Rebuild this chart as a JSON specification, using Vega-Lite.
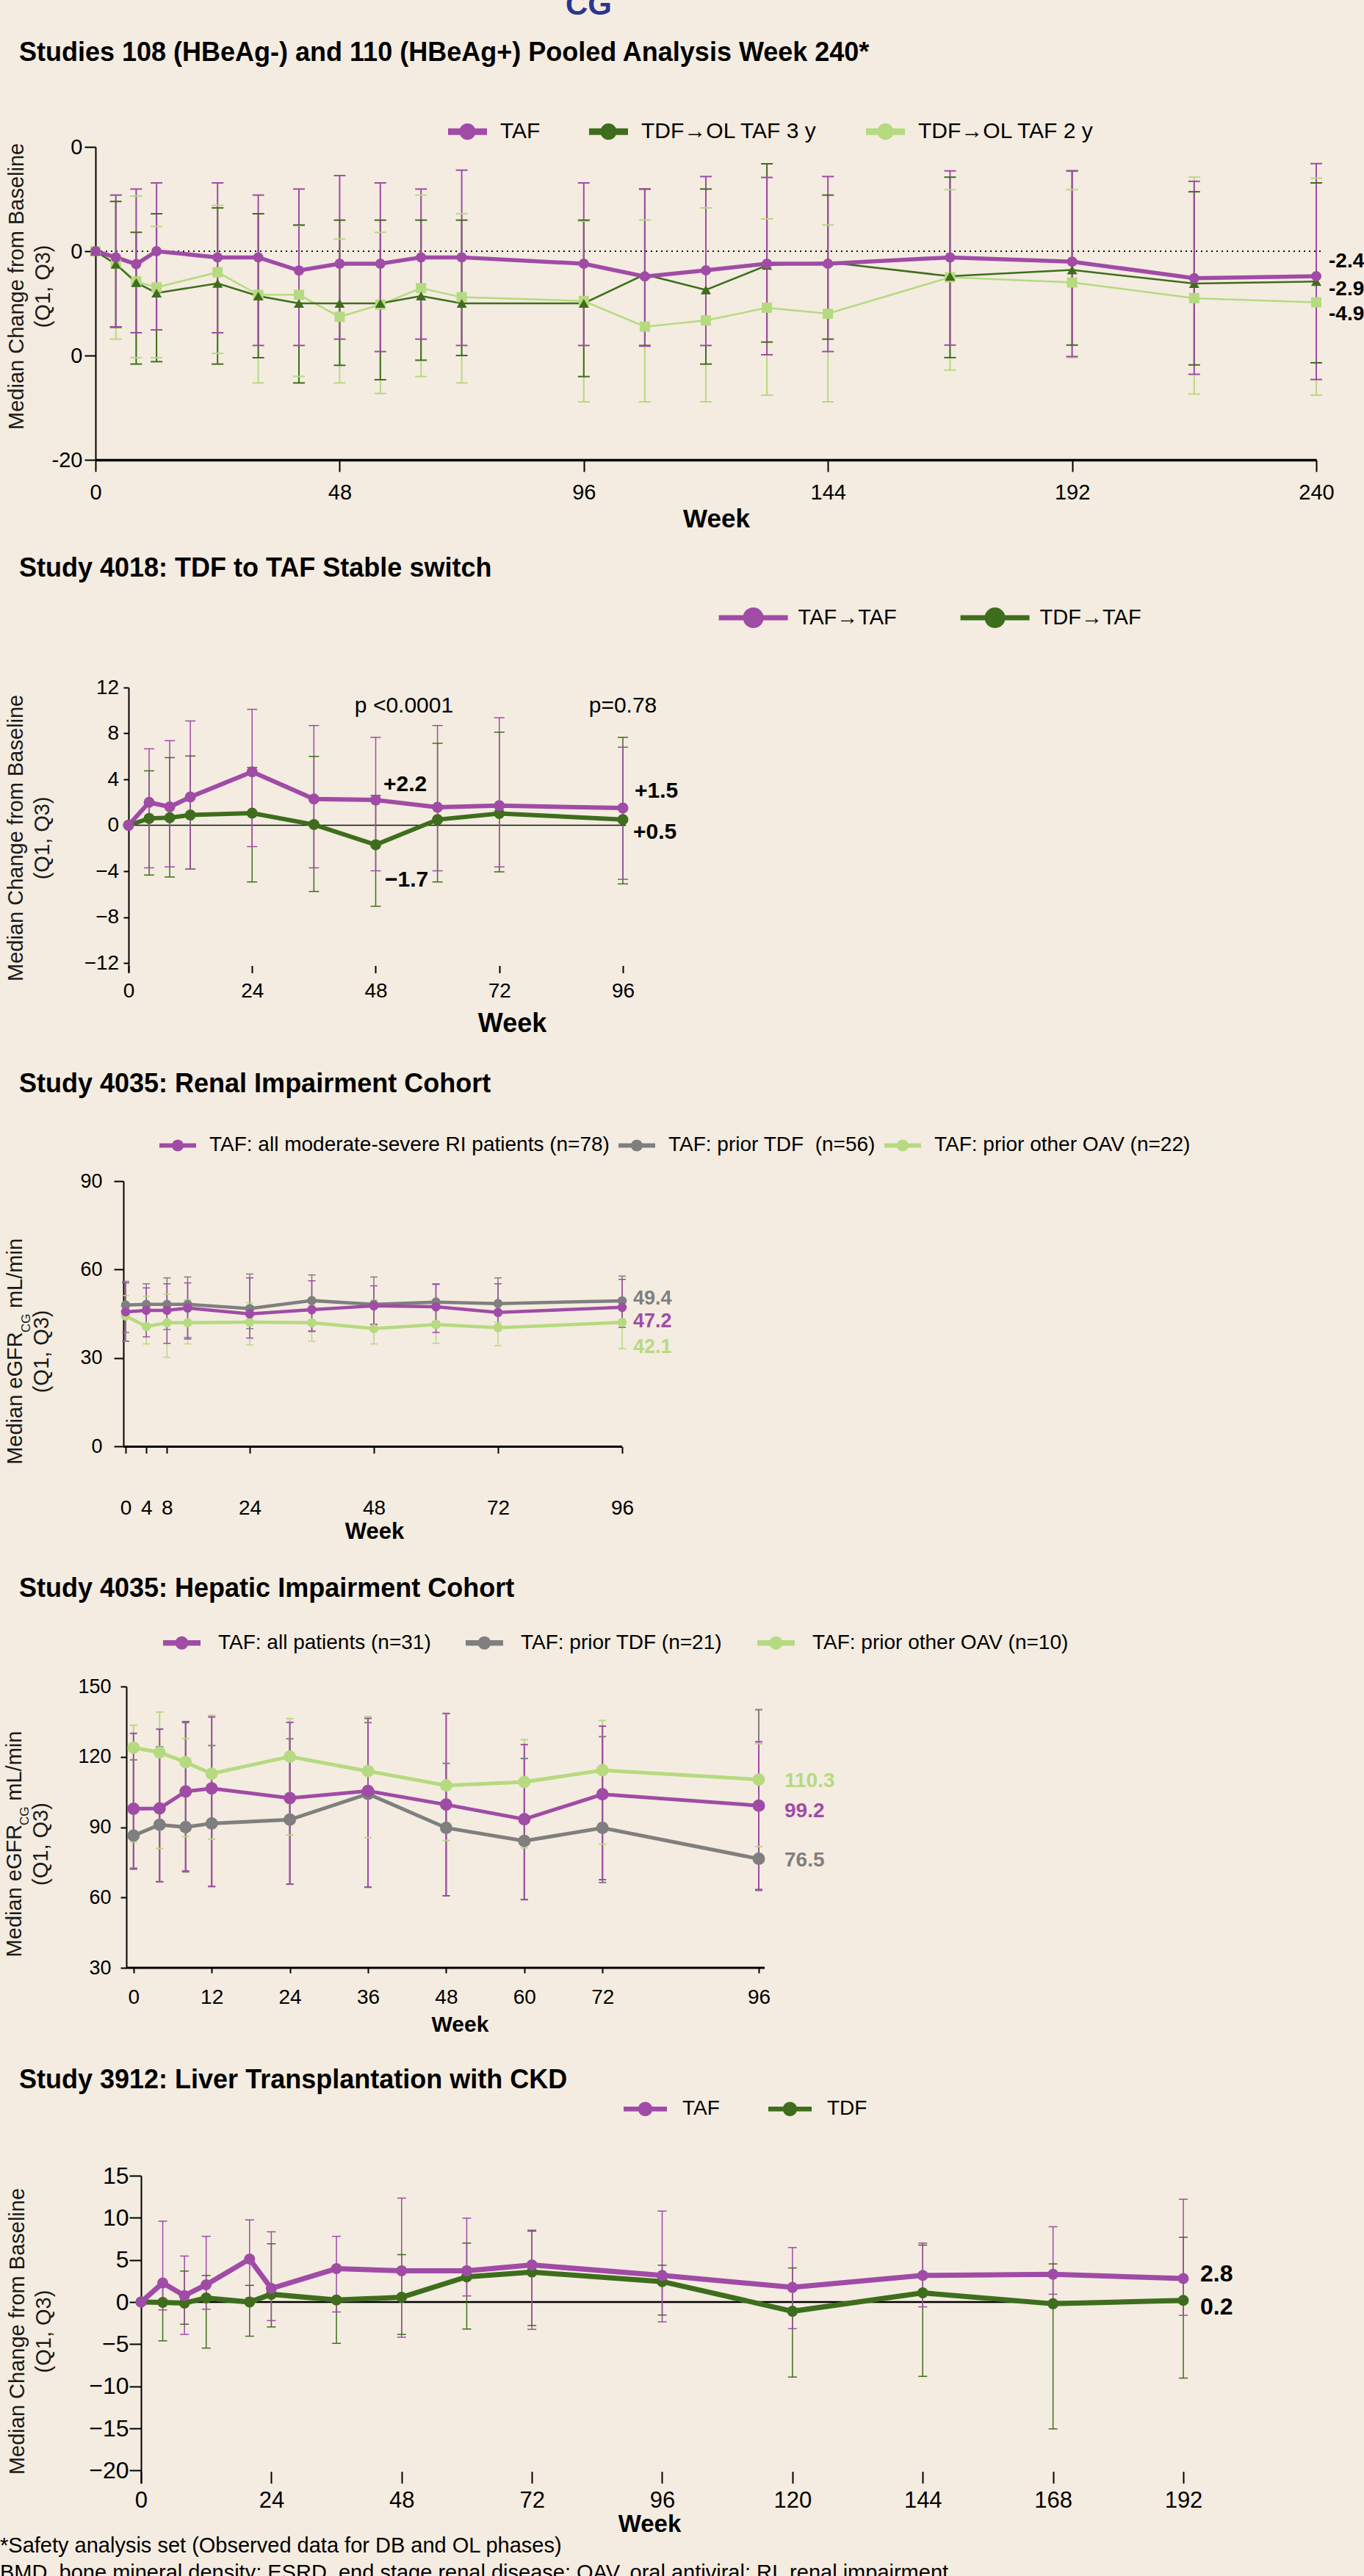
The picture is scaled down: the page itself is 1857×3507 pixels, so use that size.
{
  "$schema": "https://vega.github.io/schema/vega-lite/v6.json",
  "background": "#F4ECE0",
  "padding": {"left": 0, "top": -14, "right": 10, "bottom": 0},
  "spacing": 0,
  "bounds": "flush",
  "config": {
    "font": "Liberation Sans",
    "view": {"stroke": null},
    "axis": {"grid": false, "labelFlush": false, "labelOverlap": false, "labelBound": false, "domainColor": "#000", "tickColor": "#000", "labelColor": "#000", "titleColor": "#1a1a1a", "tickWidth": 2, "domainWidth": 2},
    "legend": {"labelColor": "#000", "padding": 0, "rowPadding": 0, "symbolStrokeWidth": 0, "symbolOpacity": 1, "direction": "horizontal", "labelLimit": 1000},
    "title": {"anchor": "start", "frame": "group", "baseline": "alphabetic", "color": "#000", "fontWeight": "bold", "fontSize": 36, "dx": -104}
  },
  "resolve": {"scale": {"color": "independent", "shape": "independent"}, "legend": {"color": "independent", "shape": "independent"}},
  "datasets": {
    "p1": [
      {"series": "TDF→OL TAF 2 y", "week": 0, "median": 0},
      {"series": "TDF→OL TAF 2 y", "week": 4, "median": -1.2, "q1": -8.43, "q3": 5.38},
      {"series": "TDF→OL TAF 2 y", "week": 8, "median": -2.9, "q1": -10.21, "q3": 5.28},
      {"series": "TDF→OL TAF 2 y", "week": 12, "median": -3.47, "q1": -10.21, "q3": 2.37},
      {"series": "TDF→OL TAF 2 y", "week": 24, "median": -2.02, "q1": -9.8, "q3": 4.4},
      {"series": "TDF→OL TAF 2 y", "week": 32, "median": -4.18, "q1": -12.63, "q3": 3.6},
      {"series": "TDF→OL TAF 2 y", "week": 40, "median": -4.18, "q1": -12.0, "q3": 2.46},
      {"series": "TDF→OL TAF 2 y", "week": 48, "median": -6.29, "q1": -12.63, "q3": 1.17},
      {"series": "TDF→OL TAF 2 y", "week": 56, "median": -5.12, "q1": -13.64, "q3": 1.81},
      {"series": "TDF→OL TAF 2 y", "week": 64, "median": -3.54, "q1": -12.02, "q3": 5.38},
      {"series": "TDF→OL TAF 2 y", "week": 72, "median": -4.41, "q1": -12.63, "q3": 3.59},
      {"series": "TDF→OL TAF 2 y", "week": 96, "median": -4.77, "q1": -14.44, "q3": 2.9},
      {"series": "TDF→OL TAF 2 y", "week": 108, "median": -7.23, "q1": -14.44, "q3": 2.98},
      {"series": "TDF→OL TAF 2 y", "week": 120, "median": -6.64, "q1": -14.44, "q3": 4.15},
      {"series": "TDF→OL TAF 2 y", "week": 132, "median": -5.42, "q1": -13.8, "q3": 3.1},
      {"series": "TDF→OL TAF 2 y", "week": 144, "median": -5.99, "q1": -14.44, "q3": 2.51},
      {"series": "TDF→OL TAF 2 y", "week": 168, "median": -2.5, "q1": -11.4, "q3": 5.9},
      {"series": "TDF→OL TAF 2 y", "week": 192, "median": -3.0, "q1": -10.2, "q3": 5.9},
      {"series": "TDF→OL TAF 2 y", "week": 216, "median": -4.5, "q1": -13.7, "q3": 7.1},
      {"series": "TDF→OL TAF 2 y", "week": 240, "median": -4.9, "q1": -13.8, "q3": 7.0},
      {"series": "TDF→OL TAF 3 y", "week": 0, "median": 0},
      {"series": "TDF→OL TAF 3 y", "week": 4, "median": -1.24, "q1": -7.3, "q3": 4.77},
      {"series": "TDF→OL TAF 3 y", "week": 8, "median": -3.0, "q1": -10.82, "q3": 1.81},
      {"series": "TDF→OL TAF 3 y", "week": 12, "median": -4.01, "q1": -10.59, "q3": 3.59},
      {"series": "TDF→OL TAF 3 y", "week": 24, "median": -3.08, "q1": -10.82, "q3": 4.15},
      {"series": "TDF→OL TAF 3 y", "week": 32, "median": -4.3, "q1": -10.21, "q3": 3.59},
      {"series": "TDF→OL TAF 3 y", "week": 40, "median": -5.0, "q1": -12.63, "q3": 2.51},
      {"series": "TDF→OL TAF 3 y", "week": 48, "median": -5.0, "q1": -10.94, "q3": 2.98},
      {"series": "TDF→OL TAF 3 y", "week": 56, "median": -5.0, "q1": -12.32, "q3": 2.98},
      {"series": "TDF→OL TAF 3 y", "week": 64, "median": -4.3, "q1": -10.45, "q3": 2.98},
      {"series": "TDF→OL TAF 3 y", "week": 72, "median": -5.0, "q1": -10.0, "q3": 2.98},
      {"series": "TDF→OL TAF 3 y", "week": 96, "median": -5.0, "q1": -12.02, "q3": 2.98},
      {"series": "TDF→OL TAF 3 y", "week": 108, "median": -2.23, "q1": -9.04, "q3": 5.96},
      {"series": "TDF→OL TAF 3 y", "week": 120, "median": -3.71, "q1": -10.82, "q3": 5.96},
      {"series": "TDF→OL TAF 3 y", "week": 132, "median": -1.36, "q1": -8.71, "q3": 8.38},
      {"series": "TDF→OL TAF 3 y", "week": 144, "median": -1.06, "q1": -8.43, "q3": 5.38},
      {"series": "TDF→OL TAF 3 y", "week": 168, "median": -2.4, "q1": -10.2, "q3": 7.1},
      {"series": "TDF→OL TAF 3 y", "week": 192, "median": -1.8, "q1": -9.0, "q3": 7.7},
      {"series": "TDF→OL TAF 3 y", "week": 216, "median": -3.1, "q1": -10.9, "q3": 5.7},
      {"series": "TDF→OL TAF 3 y", "week": 240, "median": -2.9, "q1": -10.7, "q3": 6.55},
      {"series": "TAF", "week": 0, "median": 0},
      {"series": "TAF", "week": 4, "median": -0.59, "q1": -7.25, "q3": 5.38},
      {"series": "TAF", "week": 8, "median": -1.24, "q1": -7.82, "q3": 5.96},
      {"series": "TAF", "week": 12, "median": 0, "q1": -7.54, "q3": 6.55},
      {"series": "TAF", "week": 24, "median": -0.59, "q1": -7.82, "q3": 6.55},
      {"series": "TAF", "week": 32, "median": -0.59, "q1": -9.04, "q3": 5.38},
      {"series": "TAF", "week": 40, "median": -1.85, "q1": -9.04, "q3": 5.96},
      {"series": "TAF", "week": 48, "median": -1.2, "q1": -8.43, "q3": 7.25},
      {"series": "TAF", "week": 56, "median": -1.2, "q1": -9.62, "q3": 6.55},
      {"series": "TAF", "week": 64, "median": -0.59, "q1": -8.43, "q3": 5.96},
      {"series": "TAF", "week": 72, "median": -0.59, "q1": -9.04, "q3": 7.77},
      {"series": "TAF", "week": 96, "median": -1.2, "q1": -9.04, "q3": 6.55},
      {"series": "TAF", "week": 108, "median": -2.42, "q1": -9.1, "q3": 5.96},
      {"series": "TAF", "week": 120, "median": -1.83, "q1": -9.04, "q3": 7.16},
      {"series": "TAF", "week": 132, "median": -1.2, "q1": -9.93, "q3": 7.07},
      {"series": "TAF", "week": 144, "median": -1.2, "q1": -9.62, "q3": 7.16},
      {"series": "TAF", "week": 168, "median": -0.6, "q1": -9.0, "q3": 7.7},
      {"series": "TAF", "week": 192, "median": -1.0, "q1": -10.1, "q3": 7.7},
      {"series": "TAF", "week": 216, "median": -2.58, "q1": -11.8, "q3": 6.7},
      {"series": "TAF", "week": 240, "median": -2.4, "q1": -12.3, "q3": 8.4}
    ],
    "p2": [
      {"series": "TDF→TAF", "week": 0, "median": 0},
      {"series": "TDF→TAF", "week": 4, "median": 0.6, "q1": -4.34, "q3": 4.74},
      {"series": "TDF→TAF", "week": 8, "median": 0.66, "q1": -4.51, "q3": 5.89},
      {"series": "TDF→TAF", "week": 12, "median": 0.89, "q1": -3.83, "q3": 6.03},
      {"series": "TDF→TAF", "week": 24, "median": 1.06, "q1": -4.94, "q3": 5.03},
      {"series": "TDF→TAF", "week": 36, "median": 0.06, "q1": -5.77, "q3": 6.0},
      {"series": "TDF→TAF", "week": 48, "median": -1.7, "q1": -7.06, "q3": 2.6},
      {"series": "TDF→TAF", "week": 60, "median": 0.49, "q1": -4.94, "q3": 7.14},
      {"series": "TDF→TAF", "week": 72, "median": 1.03, "q1": -4.06, "q3": 8.11},
      {"series": "TDF→TAF", "week": 96, "median": 0.5, "q1": -5.11, "q3": 7.66},
      {"series": "TAF→TAF", "week": 0, "median": 0},
      {"series": "TAF→TAF", "week": 4, "median": 2.0, "q1": -3.71, "q3": 6.66},
      {"series": "TAF→TAF", "week": 8, "median": 1.6, "q1": -3.63, "q3": 7.37},
      {"series": "TAF→TAF", "week": 12, "median": 2.46, "q1": -3.83, "q3": 9.09},
      {"series": "TAF→TAF", "week": 24, "median": 4.66, "q1": -1.86, "q3": 10.1},
      {"series": "TAF→TAF", "week": 36, "median": 2.29, "q1": -3.71, "q3": 8.69},
      {"series": "TAF→TAF", "week": 48, "median": 2.2, "q1": -3.97, "q3": 7.66},
      {"series": "TAF→TAF", "week": 60, "median": 1.57, "q1": -3.97, "q3": 8.69},
      {"series": "TAF→TAF", "week": 72, "median": 1.71, "q1": -3.63, "q3": 9.37},
      {"series": "TAF→TAF", "week": 96, "median": 1.5, "q1": -4.71, "q3": 6.8}
    ],
    "p3": [
      {"series": "TAF: prior other OAV (n=22)", "week": 0, "median": 44.3, "q1": 35.7, "q3": 51.2},
      {"series": "TAF: prior other OAV (n=22)", "week": 4, "median": 40.7, "q1": 34.8, "q3": 51.0},
      {"series": "TAF: prior other OAV (n=22)", "week": 8, "median": 42.0, "q1": 30.3, "q3": 51.7},
      {"series": "TAF: prior other OAV (n=22)", "week": 12, "median": 42.0, "q1": 34.8, "q3": 49.8},
      {"series": "TAF: prior other OAV (n=22)", "week": 24, "median": 42.2, "q1": 34.5, "q3": 48.8},
      {"series": "TAF: prior other OAV (n=22)", "week": 36, "median": 42.0, "q1": 35.7, "q3": 47.8},
      {"series": "TAF: prior other OAV (n=22)", "week": 48, "median": 40.0, "q1": 34.8, "q3": 49.7},
      {"series": "TAF: prior other OAV (n=22)", "week": 60, "median": 41.4, "q1": 35.0, "q3": 49.0},
      {"series": "TAF: prior other OAV (n=22)", "week": 72, "median": 40.3, "q1": 34.2, "q3": 42.2},
      {"series": "TAF: prior other OAV (n=22)", "week": 96, "median": 42.1, "q1": 33.2, "q3": 48.0},
      {"series": "TAF: prior TDF\u00a0 (n=56)", "week": 0, "median": 48.0, "q1": 38.7, "q3": 56.0},
      {"series": "TAF: prior TDF\u00a0 (n=56)", "week": 4, "median": 48.2, "q1": 41.5, "q3": 55.2},
      {"series": "TAF: prior TDF\u00a0 (n=56)", "week": 8, "median": 48.2, "q1": 39.7, "q3": 57.2},
      {"series": "TAF: prior TDF\u00a0 (n=56)", "week": 12, "median": 48.2, "q1": 37.0, "q3": 57.5},
      {"series": "TAF: prior TDF\u00a0 (n=56)", "week": 24, "median": 46.8, "q1": 40.0, "q3": 58.5},
      {"series": "TAF: prior TDF\u00a0 (n=56)", "week": 36, "median": 49.5, "q1": 39.0, "q3": 58.2},
      {"series": "TAF: prior TDF\u00a0 (n=56)", "week": 48, "median": 48.2, "q1": 41.4, "q3": 57.5},
      {"series": "TAF: prior TDF\u00a0 (n=56)", "week": 60, "median": 49.0, "q1": 42.4, "q3": 55.2},
      {"series": "TAF: prior TDF\u00a0 (n=56)", "week": 72, "median": 48.5, "q1": 41.2, "q3": 57.2},
      {"series": "TAF: prior TDF\u00a0 (n=56)", "week": 96, "median": 49.4, "q1": 42.6, "q3": 57.8},
      {"series": "TAF: all moderate-severe RI patients (n=78)", "week": 0, "median": 45.7, "q1": 35.7, "q3": 55.5},
      {"series": "TAF: all moderate-severe RI patients (n=78)", "week": 4, "median": 46.2, "q1": 37.2, "q3": 53.8},
      {"series": "TAF: all moderate-severe RI patients (n=78)", "week": 8, "median": 46.2, "q1": 35.0, "q3": 55.2},
      {"series": "TAF: all moderate-severe RI patients (n=78)", "week": 12, "median": 47.0, "q1": 36.5, "q3": 55.5},
      {"series": "TAF: all moderate-severe RI patients (n=78)", "week": 24, "median": 45.0, "q1": 36.8, "q3": 57.2},
      {"series": "TAF: all moderate-severe RI patients (n=78)", "week": 36, "median": 46.4, "q1": 39.2, "q3": 56.2},
      {"series": "TAF: all moderate-severe RI patients (n=78)", "week": 48, "median": 47.7, "q1": 41.5, "q3": 54.5},
      {"series": "TAF: all moderate-severe RI patients (n=78)", "week": 60, "median": 47.4, "q1": 38.7, "q3": 55.0},
      {"series": "TAF: all moderate-severe RI patients (n=78)", "week": 72, "median": 45.5, "q1": 41.2, "q3": 55.2},
      {"series": "TAF: all moderate-severe RI patients (n=78)", "week": 96, "median": 47.2, "q1": 40.4, "q3": 56.7}
    ],
    "p4": [
      {"series": "TAF: prior other OAV (n=10)", "week": 0, "median": 123.9, "q1": 83.7, "q3": 133.5},
      {"series": "TAF: prior other OAV (n=10)", "week": 4, "median": 121.9, "q1": 80.9, "q3": 139.1},
      {"series": "TAF: prior other OAV (n=10)", "week": 8, "median": 117.7, "q1": 86.0, "q3": 127.8},
      {"series": "TAF: prior other OAV (n=10)", "week": 12, "median": 112.8, "q1": 84.9, "q3": 137.7},
      {"series": "TAF: prior other OAV (n=10)", "week": 24, "median": 120.1, "q1": 86.7, "q3": 136.3},
      {"series": "TAF: prior other OAV (n=10)", "week": 36, "median": 113.9, "q1": 85.5, "q3": 137.2},
      {"series": "TAF: prior other OAV (n=10)", "week": 48, "median": 107.8, "q1": 84.3, "q3": 138.4},
      {"series": "TAF: prior other OAV (n=10)", "week": 60, "median": 109.3, "q1": 81.2, "q3": 127.3},
      {"series": "TAF: prior other OAV (n=10)", "week": 72, "median": 114.3, "q1": 82.7, "q3": 135.5},
      {"series": "TAF: prior other OAV (n=10)", "week": 96, "median": 110.3, "q1": 81.7, "q3": 125.6},
      {"series": "TAF: prior TDF (n=21)", "week": 0, "median": 86.4, "q1": 72.5, "q3": 118.7},
      {"series": "TAF: prior TDF (n=21)", "week": 4, "median": 91.0, "q1": 66.7, "q3": 124.3},
      {"series": "TAF: prior TDF (n=21)", "week": 8, "median": 90.0, "q1": 70.9, "q3": 134.6},
      {"series": "TAF: prior TDF (n=21)", "week": 12, "median": 91.6, "q1": 64.7, "q3": 124.8},
      {"series": "TAF: prior TDF (n=21)", "week": 24, "median": 93.2, "q1": 65.7, "q3": 127.7},
      {"series": "TAF: prior TDF (n=21)", "week": 36, "median": 104.2, "q1": 64.4, "q3": 134.6},
      {"series": "TAF: prior TDF (n=21)", "week": 48, "median": 89.7, "q1": 60.7, "q3": 117.2},
      {"series": "TAF: prior TDF (n=21)", "week": 60, "median": 84.1, "q1": 59.1, "q3": 119.3},
      {"series": "TAF: prior TDF (n=21)", "week": 72, "median": 89.7, "q1": 66.4, "q3": 128.6},
      {"series": "TAF: prior TDF (n=21)", "week": 96, "median": 76.5, "q1": 63.0, "q3": 140.1},
      {"series": "TAF: all patients (n=31)", "week": 0, "median": 97.8, "q1": 72.1, "q3": 130.0},
      {"series": "TAF: all patients (n=31)", "week": 4, "median": 98.0, "q1": 66.7, "q3": 131.8},
      {"series": "TAF: all patients (n=31)", "week": 8, "median": 105.2, "q1": 71.3, "q3": 135.0},
      {"series": "TAF: all patients (n=31)", "week": 12, "median": 106.5, "q1": 64.7, "q3": 137.0},
      {"series": "TAF: all patients (n=31)", "week": 24, "median": 102.4, "q1": 65.7, "q3": 134.7},
      {"series": "TAF: all patients (n=31)", "week": 36, "median": 105.4, "q1": 64.4, "q3": 136.4},
      {"series": "TAF: all patients (n=31)", "week": 48, "median": 99.6, "q1": 60.7, "q3": 138.5},
      {"series": "TAF: all patients (n=31)", "week": 60, "median": 93.4, "q1": 59.1, "q3": 125.2},
      {"series": "TAF: all patients (n=31)", "week": 72, "median": 104.0, "q1": 67.6, "q3": 133.1},
      {"series": "TAF: all patients (n=31)", "week": 96, "median": 99.2, "q1": 63.4, "q3": 126.4}
    ],
    "p5": [
      {"series": "TDF", "week": 0, "median": 0},
      {"series": "TDF", "week": 4, "median": -0.04, "q1": -4.6, "q3": 2.27},
      {"series": "TDF", "week": 8, "median": -0.12, "q1": -2.63, "q3": 3.68},
      {"series": "TDF", "week": 12, "median": 0.49, "q1": -5.46, "q3": 3.16},
      {"series": "TDF", "week": 20, "median": 0.0, "q1": -4.05, "q3": 1.98},
      {"series": "TDF", "week": 24, "median": 0.93, "q1": -2.95, "q3": 6.92},
      {"series": "TDF", "week": 36, "median": 0.24, "q1": -4.9, "q3": 0.6},
      {"series": "TDF", "week": 48, "median": 0.57, "q1": -3.84, "q3": 5.63},
      {"series": "TDF", "week": 60, "median": 3.0, "q1": -3.2, "q3": 7.0},
      {"series": "TDF", "week": 72, "median": 3.56, "q1": -2.79, "q3": 8.42},
      {"series": "TDF", "week": 96, "median": 2.43, "q1": -1.54, "q3": 4.37},
      {"series": "TDF", "week": 120, "median": -1.09, "q1": -8.9, "q3": 4.05},
      {"series": "TDF", "week": 144, "median": 1.09, "q1": -8.82, "q3": 6.76},
      {"series": "TDF", "week": 168, "median": -0.2, "q1": -15.05, "q3": 4.53},
      {"series": "TDF", "week": 192, "median": 0.2, "q1": -9.02, "q3": 7.69},
      {"series": "TAF", "week": 0, "median": 0},
      {"series": "TAF", "week": 4, "median": 2.27, "q1": -0.93, "q3": 9.6},
      {"series": "TAF", "week": 8, "median": 0.77, "q1": -3.84, "q3": 5.46},
      {"series": "TAF", "week": 12, "median": 2.06, "q1": -0.85, "q3": 7.8},
      {"series": "TAF", "week": 20, "median": 5.1, "q1": 0.49, "q3": 9.75},
      {"series": "TAF", "week": 24, "median": 1.62, "q1": -2.2, "q3": 8.34},
      {"series": "TAF", "week": 36, "median": 3.97, "q1": -1.17, "q3": 7.8},
      {"series": "TAF", "week": 48, "median": 3.72, "q1": -4.17, "q3": 12.34},
      {"series": "TAF", "week": 60, "median": 3.72, "q1": 0.73, "q3": 9.96},
      {"series": "TAF", "week": 72, "median": 4.4, "q1": -3.24, "q3": 8.54},
      {"series": "TAF", "week": 96, "median": 3.16, "q1": -2.35, "q3": 10.8},
      {"series": "TAF", "week": 120, "median": 1.74, "q1": -3.16, "q3": 6.47},
      {"series": "TAF", "week": 144, "median": 3.16, "q1": -0.57, "q3": 7.0},
      {"series": "TAF", "week": 168, "median": 3.3, "q1": 0.93, "q3": 8.94},
      {"series": "TAF", "week": 192, "median": 2.8, "q1": -1.58, "q3": 12.2}
    ]
  },
  "vconcat": [
    {"width": 1, "height": 20, "data": {"values": []}, "mark": "point",
     "title": {"text": "CG", "fontSize": 42, "color": "#2B3590", "offset": -20, "dx": 640}},
    {"width": 1, "height": 171, "data": {"values": []}, "mark": "point",
     "title": {"text": "Studies 108 (HBeAg-) and 110 (HBeAg+) Pooled Analysis Week 240*", "offset": -62}},
    {
      "width": 1662, "height": 426,
      "data": {"name": "p1"},
      "layer": [
        {"data": {"values": [{"ref": 0, "from": 0, "to": 241.2}]},
         "mark": {"type": "rule", "strokeDash": [2, 5], "strokeWidth": 2, "color": "#111"},
         "encoding": {
           "x": {"field": "from", "type": "quantitative", "scale": {"domain": [0, 240], "nice": false, "zero": false}},
           "x2": {"field": "to"},
           "y": {"field": "ref", "type": "quantitative", "scale": {"domain": [-20, 10], "nice": false, "zero": false}}}},
        {"mark": {"type": "rule", "strokeWidth": 2},
         "encoding": {
           "x": {"field": "week", "type": "quantitative", "scale": {"domain": [0, 240], "nice": false, "zero": false}},
           "y": {"field": "q1", "type": "quantitative", "scale": {"domain": [-20, 10], "nice": false, "zero": false}},
           "y2": {"field": "q3"},
           "color": {"field": "series", "type": "nominal", "scale": {"domain": ["TAF", "TDF→OL TAF 3 y", "TDF→OL TAF 2 y"], "range": ["#A04BA6", "#3E6E1D", "#B6DA80"]}}}},
        {"mark": {"type": "tick", "orient": "horizontal", "size": 16, "thickness": 2, "opacity": 1},
         "encoding": {
           "x": {"field": "week", "type": "quantitative", "scale": {"domain": [0, 240], "nice": false, "zero": false}},
           "y": {"field": "q1", "type": "quantitative", "scale": {"domain": [-20, 10], "nice": false, "zero": false}},
           "color": {"field": "series", "type": "nominal", "scale": {"domain": ["TAF", "TDF→OL TAF 3 y", "TDF→OL TAF 2 y"], "range": ["#A04BA6", "#3E6E1D", "#B6DA80"]}}}},
        {"mark": {"type": "tick", "orient": "horizontal", "size": 16, "thickness": 2, "opacity": 1},
         "encoding": {
           "x": {"field": "week", "type": "quantitative", "scale": {"domain": [0, 240], "nice": false, "zero": false}},
           "y": {"field": "q3", "type": "quantitative", "scale": {"domain": [-20, 10], "nice": false, "zero": false}},
           "color": {"field": "series", "type": "nominal", "scale": {"domain": ["TAF", "TDF→OL TAF 3 y", "TDF→OL TAF 2 y"], "range": ["#A04BA6", "#3E6E1D", "#B6DA80"]}}}},
        {"transform": [{"filter": "datum.series != 'TAF'"}],
         "mark": {"type": "line", "strokeWidth": 2.5},
         "encoding": {
           "x": {"field": "week", "type": "quantitative", "scale": {"domain": [0, 240], "nice": false, "zero": false},
                 "axis": {"values": [0, 48, 96, 144, 192, 240], "domainWidth": 3.5, "tickSize": 16, "labelPadding": 37.7, "labelBaseline": "alphabetic", "labelFontSize": 29, "title": "Week", "titleFontSize": 35, "titleFontWeight": "bold", "titleColor": "#000", "titleX": 845, "titleY": 91.8, "titleBaseline": "alphabetic", "titleAlign": "center", "titleAngle": 0}},
           "y": {"field": "median", "type": "quantitative", "scale": {"domain": [-20, 10], "nice": false, "zero": false},
                 "axis": {"values": [-20, -10, 0, 10], "labelExpr": "datum.value == -20 ? '-20' : '0'", "tickSize": 15, "labelPadding": 3, "labelFontSize": 29, "title": ["Median Change from Baseline", "(Q1, Q3)"], "titleFontSize": 29, "titleFontWeight": "normal", "titleX": -93, "titleY": 189.4, "titleAngle": 270, "titleBaseline": "bottom", "titleAlign": "center", "titleLineHeight": 36}},
           "color": {"field": "series", "type": "nominal", "scale": {"domain": ["TAF", "TDF→OL TAF 3 y", "TDF→OL TAF 2 y"], "range": ["#A04BA6", "#3E6E1D", "#B6DA80"]}}}},
        {"transform": [{"filter": "datum.series == 'TAF'"}],
         "mark": {"type": "line", "strokeWidth": 5.5},
         "encoding": {
           "x": {"field": "week", "type": "quantitative", "scale": {"domain": [0, 240], "nice": false, "zero": false}},
           "y": {"field": "median", "type": "quantitative", "scale": {"domain": [-20, 10], "nice": false, "zero": false}},
           "color": {"field": "series", "type": "nominal", "scale": {"domain": ["TAF", "TDF→OL TAF 3 y", "TDF→OL TAF 2 y"], "range": ["#A04BA6", "#3E6E1D", "#B6DA80"]}}}},
        {"mark": {"type": "point", "filled": true, "opacity": 1, "size": 196},
         "encoding": {
           "x": {"field": "week", "type": "quantitative", "scale": {"domain": [0, 240], "nice": false, "zero": false}},
           "y": {"field": "median", "type": "quantitative", "scale": {"domain": [-20, 10], "nice": false, "zero": false}},
           "shape": {"field": "series", "type": "nominal", "scale": {"range": ["circle", "square", "triangle-up"]}, "legend": null},
           "color": {"field": "series", "type": "nominal", "scale": {"domain": ["TAF", "TDF→OL TAF 3 y", "TDF→OL TAF 2 y"], "range": ["#A04BA6", "#3E6E1D", "#B6DA80"]},
                     "legend": {"title": null, "orient": "none", "legendX": 480, "legendY": -47.6, "symbolType": "M-1,-0.17L1,-0.17L1,0.17L-1,0.17Z M0.42,0A0.42,0.42 0 1 1 -0.42,0A0.42,0.42 0 1 1 0.42,0Z", "symbolSize": 2809, "labelFontSize": 30, "labelOffset": 18, "columnPadding": 66}}}},
        {"transform": [{"filter": "datum.week == 240"}],
         "layer": [
           {"transform": [{"filter": "datum.series == 'TAF'"}], "mark": {"type": "text", "align": "left", "baseline": "middle", "fontSize": 28, "fontWeight": "bold", "dx": 17, "dy": -20, "color": "#000"}},
           {"transform": [{"filter": "datum.series == 'TDF→OL TAF 3 y'"}], "mark": {"type": "text", "align": "left", "baseline": "middle", "fontSize": 28, "fontWeight": "bold", "dx": 17, "dy": 11, "color": "#000"}},
           {"transform": [{"filter": "datum.series == 'TDF→OL TAF 2 y'"}], "mark": {"type": "text", "align": "left", "baseline": "middle", "fontSize": 28, "fontWeight": "bold", "dx": 17, "dy": 16, "color": "#000"}}
         ],
         "encoding": {
           "x": {"field": "week", "type": "quantitative", "scale": {"domain": [0, 240], "nice": false, "zero": false}},
           "y": {"field": "median", "type": "quantitative", "scale": {"domain": [-20, 10], "nice": false, "zero": false}},
           "text": {"field": "median", "type": "nominal"}}}
      ]
    },
    {"width": 1, "height": 310, "data": {"values": []}, "mark": "point",
     "title": {"text": "Study 4018: TDF to TAF Stable switch", "offset": -167}},
    {
      "width": 718, "height": 387.5,
      "data": {"name": "p2"},
      "layer": [
        {"data": {"values": [{"ref": 0, "from": 0, "to": 96.6}]},
         "mark": {"type": "rule", "strokeWidth": 1.5, "color": "#111"},
         "encoding": {
           "x": {"field": "from", "type": "quantitative", "scale": {"domain": [-6.419, 96], "nice": false, "zero": false}},
           "x2": {"field": "to"},
           "y": {"field": "ref", "type": "quantitative", "scale": {"domain": [-12.8, 12], "nice": false, "zero": false}}}},
        {"mark": {"type": "rule", "strokeWidth": 1.5},
         "encoding": {
           "x": {"field": "week", "type": "quantitative", "scale": {"domain": [-6.419, 96], "nice": false, "zero": false}},
           "y": {"field": "q1", "type": "quantitative", "scale": {"domain": [-12.8, 12], "nice": false, "zero": false}},
           "y2": {"field": "q3"},
           "color": {"field": "series", "type": "nominal", "scale": {"domain": ["TAF→TAF", "TDF→TAF"], "range": ["#A04BA6", "#3E6E1D"]}}}},
        {"mark": {"type": "tick", "orient": "horizontal", "size": 14, "thickness": 1.5, "opacity": 1},
         "encoding": {
           "x": {"field": "week", "type": "quantitative", "scale": {"domain": [-6.419, 96], "nice": false, "zero": false}},
           "y": {"field": "q1", "type": "quantitative", "scale": {"domain": [-12.8, 12], "nice": false, "zero": false}},
           "color": {"field": "series", "type": "nominal", "scale": {"domain": ["TAF→TAF", "TDF→TAF"], "range": ["#A04BA6", "#3E6E1D"]}}}},
        {"mark": {"type": "tick", "orient": "horizontal", "size": 14, "thickness": 1.5, "opacity": 1},
         "encoding": {
           "x": {"field": "week", "type": "quantitative", "scale": {"domain": [-6.419, 96], "nice": false, "zero": false}},
           "y": {"field": "q3", "type": "quantitative", "scale": {"domain": [-12.8, 12], "nice": false, "zero": false}},
           "color": {"field": "series", "type": "nominal", "scale": {"domain": ["TAF→TAF", "TDF→TAF"], "range": ["#A04BA6", "#3E6E1D"]}}}},
        {"transform": [{"filter": "datum.series == 'TDF→TAF'"}],
         "mark": {"type": "line", "strokeWidth": 6},
         "encoding": {
           "x": {"field": "week", "type": "quantitative", "scale": {"domain": [-6.419, 96], "nice": false, "zero": false},
                 "axis": {"values": [0, 24, 48, 72, 96], "domain": false, "offset": -9, "tickSize": 10, "labelPadding": 32.5, "labelBaseline": "alphabetic", "labelFontSize": 28, "title": "Week", "titleFontSize": 36, "titleFontWeight": "bold", "titleColor": "#000", "titleX": 567, "titleY": 90, "titleBaseline": "alphabetic", "titleAlign": "center", "titleAngle": 0}},
           "y": {"field": "median", "type": "quantitative", "scale": {"domain": [-12.8, 12], "nice": false, "zero": false},
                 "axis": {"values": [-12, -8, -4, 0, 4, 8, 12], "offset": -45, "tickSize": 7, "labelPadding": 6.3, "labelFontSize": 28, "title": ["Median Change from Baseline", "(Q1, Q3)"], "titleFontSize": 29, "titleFontWeight": "normal", "titleX": -139, "titleY": 204.4, "titleAngle": 270, "titleBaseline": "bottom", "titleAlign": "center", "titleLineHeight": 36}},
           "color": {"field": "series", "type": "nominal", "scale": {"domain": ["TAF→TAF", "TDF→TAF"], "range": ["#A04BA6", "#3E6E1D"]}}}},
        {"transform": [{"filter": "datum.series == 'TAF→TAF'"}],
         "mark": {"type": "line", "strokeWidth": 6},
         "encoding": {
           "x": {"field": "week", "type": "quantitative", "scale": {"domain": [-6.419, 96], "nice": false, "zero": false}},
           "y": {"field": "median", "type": "quantitative", "scale": {"domain": [-12.8, 12], "nice": false, "zero": false}},
           "color": {"field": "series", "type": "nominal", "scale": {"domain": ["TAF→TAF", "TDF→TAF"], "range": ["#A04BA6", "#3E6E1D"]}}}},
        {"mark": {"type": "point", "filled": true, "opacity": 1, "size": 225},
         "encoding": {
           "x": {"field": "week", "type": "quantitative", "scale": {"domain": [-6.419, 96], "nice": false, "zero": false}},
           "y": {"field": "median", "type": "quantitative", "scale": {"domain": [-12.8, 12], "nice": false, "zero": false}},
           "color": {"field": "series", "type": "nominal", "scale": {"domain": ["TAF→TAF", "TDF→TAF"], "range": ["#A04BA6", "#3E6E1D"]},
                     "legend": {"title": null, "orient": "none", "legendX": 848.6, "legendY": -142, "symbolType": "M-1,-0.075L1,-0.075L1,0.075L-1,0.075Z M0.3,0A0.3,0.3 0 1 1 -0.3,0A0.3,0.3 0 1 1 0.3,0Z", "symbolSize": 8836, "labelFontSize": 29, "labelOffset": 14, "columnPadding": 86}}}},
        {"transform": [{"filter": "datum.week == 48 || datum.week == 96"}],
         "layer": [
           {"transform": [{"filter": "datum.week == 48 && datum.series == 'TAF→TAF'"}], "mark": {"type": "text", "align": "left", "baseline": "middle", "fontSize": 30, "fontWeight": "bold", "dx": 10.5, "dy": -21, "color": "#000"}},
           {"transform": [{"filter": "datum.week == 48 && datum.series == 'TDF→TAF'"}], "mark": {"type": "text", "align": "left", "baseline": "middle", "fontSize": 30, "fontWeight": "bold", "dx": 12.5, "dy": 48, "color": "#000"}},
           {"transform": [{"filter": "datum.week == 96 && datum.series == 'TAF→TAF'"}], "mark": {"type": "text", "align": "left", "baseline": "middle", "fontSize": 30, "fontWeight": "bold", "dx": 16, "dy": -23, "color": "#000"}},
           {"transform": [{"filter": "datum.week == 96 && datum.series == 'TDF→TAF'"}], "mark": {"type": "text", "align": "left", "baseline": "middle", "fontSize": 30, "fontWeight": "bold", "dx": 14, "dy": 17.5, "color": "#000"}}
         ],
         "encoding": {
           "x": {"field": "week", "type": "quantitative", "scale": {"domain": [-6.419, 96], "nice": false, "zero": false}},
           "y": {"field": "median", "type": "quantitative", "scale": {"domain": [-12.8, 12], "nice": false, "zero": false}},
           "text": {"field": "median", "type": "quantitative", "format": "+.1f"}}},
        {"data": {"values": [{"week": 48, "level": 10.4, "pvalue": "p <0.0001"}, {"week": 96, "level": 10.4, "pvalue": "p=0.78"}]},
         "layer": [
           {"transform": [{"filter": "datum.week == 48"}], "mark": {"type": "text", "align": "center", "baseline": "middle", "fontSize": 30, "dx": 38.5, "color": "#000"}},
           {"transform": [{"filter": "datum.week == 96"}], "mark": {"type": "text", "align": "center", "baseline": "middle", "fontSize": 30, "color": "#000"}}
         ],
         "encoding": {
           "x": {"field": "week", "type": "quantitative", "scale": {"domain": [-6.419, 96], "nice": false, "zero": false}},
           "y": {"field": "level", "type": "quantitative", "scale": {"domain": [-12.8, 12], "nice": false, "zero": false}},
           "text": {"field": "pvalue", "type": "nominal"}}}
      ]
    },
    {"width": 1, "height": 283.8, "data": {"values": []}, "mark": "point",
     "title": {"text": "Study 4035: Renal Impairment Cohort", "offset": -170.5}},
    {
      "width": 717, "height": 361.4,
      "data": {"name": "p3"},
      "resolve": {"axis": {"y": "independent"}},
      "layer": [
        {
          "layer": [
            {"data": {"values": [{"ref": 0, "from": -0.426, "to": 96}]},
             "mark": {"type": "rule", "strokeWidth": 3, "color": "#000"},
             "encoding": {
               "x": {"field": "from", "type": "quantitative", "scale": {"domain": [-5.823, 96], "nice": false, "zero": false}},
               "x2": {"field": "to"},
               "y": {"field": "ref", "type": "quantitative", "scale": {"domain": [0, 90], "nice": false, "zero": false}}}},
            {"mark": {"type": "rule", "strokeWidth": 1.5},
             "encoding": {
               "x": {"field": "week", "type": "quantitative", "scale": {"domain": [-5.823, 96], "nice": false, "zero": false}},
               "y": {"field": "q1", "type": "quantitative", "scale": {"domain": [0, 90], "nice": false, "zero": false}},
               "y2": {"field": "q3"},
               "color": {"field": "series", "type": "nominal", "scale": {"domain": ["TAF: all moderate-severe RI patients (n=78)", "TAF: prior TDF\u00a0 (n=56)", "TAF: prior other OAV (n=22)"], "range": ["#A04BA6", "#7F7F7F", "#B6DA80"]}}}},
            {"mark": {"type": "tick", "orient": "horizontal", "size": 10, "thickness": 1.5, "opacity": 1},
             "encoding": {
               "x": {"field": "week", "type": "quantitative", "scale": {"domain": [-5.823, 96], "nice": false, "zero": false}},
               "y": {"field": "q1", "type": "quantitative", "scale": {"domain": [0, 90], "nice": false, "zero": false}},
               "color": {"field": "series", "type": "nominal", "scale": {"domain": ["TAF: all moderate-severe RI patients (n=78)", "TAF: prior TDF\u00a0 (n=56)", "TAF: prior other OAV (n=22)"], "range": ["#A04BA6", "#7F7F7F", "#B6DA80"]}}}},
            {"mark": {"type": "tick", "orient": "horizontal", "size": 10, "thickness": 1.5, "opacity": 1},
             "encoding": {
               "x": {"field": "week", "type": "quantitative", "scale": {"domain": [-5.823, 96], "nice": false, "zero": false}},
               "y": {"field": "q3", "type": "quantitative", "scale": {"domain": [0, 90], "nice": false, "zero": false}},
               "color": {"field": "series", "type": "nominal", "scale": {"domain": ["TAF: all moderate-severe RI patients (n=78)", "TAF: prior TDF\u00a0 (n=56)", "TAF: prior other OAV (n=22)"], "range": ["#A04BA6", "#7F7F7F", "#B6DA80"]}}}},
            {"mark": {"type": "line", "strokeWidth": 4.5},
             "encoding": {
               "x": {"field": "week", "type": "quantitative", "scale": {"domain": [-5.823, 96], "nice": false, "zero": false},
                     "axis": {"values": [0, 4, 8, 24, 48, 72, 96], "domain": false, "tickSize": 9, "labelPadding": 82.6, "labelBaseline": "alphabetic", "labelFontSize": 28, "title": "Week", "titleFontSize": 31, "titleFontWeight": "bold", "titleColor": "#000", "titleX": 379.5, "titleY": 125, "titleBaseline": "alphabetic", "titleAlign": "center", "titleAngle": 0}},
               "y": {"field": "median", "type": "quantitative", "scale": {"domain": [0, 90], "nice": false, "zero": false},
                     "axis": {"values": [0, 30, 60, 90], "offset": -38, "tickSize": 13, "labelPadding": 16, "labelFontSize": 27, "title": ["Median eGFR\u00a0\u00a0\u00a0 mL/min", "(Q1, Q3)"], "titleFontSize": 29, "titleFontWeight": "normal", "titleX": -133, "titleY": 231.4, "titleAngle": 270, "titleBaseline": "bottom", "titleAlign": "center", "titleLineHeight": 36}},
               "color": {"field": "series", "type": "nominal", "scale": {"domain": ["TAF: all moderate-severe RI patients (n=78)", "TAF: prior TDF\u00a0 (n=56)", "TAF: prior other OAV (n=22)"], "range": ["#A04BA6", "#7F7F7F", "#B6DA80"]}}}},
            {"mark": {"type": "point", "filled": true, "opacity": 1, "size": 160},
             "encoding": {
               "x": {"field": "week", "type": "quantitative", "scale": {"domain": [-5.823, 96], "nice": false, "zero": false}},
               "y": {"field": "median", "type": "quantitative", "scale": {"domain": [0, 90], "nice": false, "zero": false}},
               "color": {"field": "series", "type": "nominal", "scale": {"domain": ["TAF: all moderate-severe RI patients (n=78)", "TAF: prior TDF\u00a0 (n=56)", "TAF: prior other OAV (n=22)"], "range": ["#A04BA6", "#7F7F7F", "#B6DA80"]},
                         "legend": {"title": null, "orient": "none", "legendX": 87, "legendY": -73.6, "symbolType": "M-1,-0.12L1,-0.12L1,0.12L-1,0.12Z M0.32,0A0.32,0.32 0 1 1 -0.32,0A0.32,0.32 0 1 1 0.32,0Z", "symbolSize": 2500, "labelFontSize": 28, "labelOffset": 18, "columnPadding": 12}}}},
            {"transform": [{"filter": "datum.week == 96"}],
             "layer": [
               {"transform": [{"filter": "datum.series == 'TAF: prior TDF\u00a0 (n=56)'"}], "mark": {"type": "text", "align": "left", "baseline": "middle", "fontSize": 27, "fontWeight": "bold", "dx": 15, "dy": -2.6, "color": "#7F7F7F"}},
               {"transform": [{"filter": "datum.series == 'TAF: all moderate-severe RI patients (n=78)'"}], "mark": {"type": "text", "align": "left", "baseline": "middle", "fontSize": 27, "fontWeight": "bold", "dx": 15, "dy": 19, "color": "#A04BA6"}},
               {"transform": [{"filter": "datum.series == 'TAF: prior other OAV (n=22)'"}], "mark": {"type": "text", "align": "left", "baseline": "middle", "fontSize": 27, "fontWeight": "bold", "dx": 15, "dy": 34, "color": "#B6DA80"}}
             ],
             "encoding": {
               "x": {"field": "week", "type": "quantitative", "scale": {"domain": [-5.823, 96], "nice": false, "zero": false}},
               "y": {"field": "median", "type": "quantitative", "scale": {"domain": [0, 90], "nice": false, "zero": false}},
               "text": {"field": "median", "type": "nominal"}}}
          ]
        },
        {"data": {"values": [{"ref": 0}]}, "mark": {"type": "rule", "opacity": 0},
         "encoding": {"y": {"field": "ref", "type": "quantitative", "scale": {"domain": [0, 90], "nice": false, "zero": false},
           "axis": {"orient": "left", "offset": -38, "domain": false, "ticks": false, "labels": false, "title": "CG", "titleFontSize": 17, "titleFontWeight": "normal", "titleX": -124, "titleY": 192.7, "titleAngle": 270, "titleBaseline": "bottom", "titleAlign": "center"}}}}
      ]
    },
    {"width": 1, "height": 326, "data": {"values": []}, "mark": "point",
     "title": {"text": "Study 4035: Hepatic Impairment Cohort", "offset": -212.3}},
    {
      "width": 911, "height": 383,
      "data": {"name": "p4"},
      "resolve": {"axis": {"y": "independent"}},
      "layer": [
        {
          "layer": [
            {"data": {"values": [{"ref": 30, "from": -1.105, "to": 96.9}]},
             "mark": {"type": "rule", "strokeWidth": 3, "color": "#000"},
             "encoding": {
               "x": {"field": "from", "type": "quantitative", "scale": {"domain": [-5.842, 96.9], "nice": false, "zero": false}},
               "x2": {"field": "to"},
               "y": {"field": "ref", "type": "quantitative", "scale": {"domain": [30, 150], "nice": false, "zero": false}}}},
            {"mark": {"type": "rule", "strokeWidth": 2},
             "encoding": {
               "x": {"field": "week", "type": "quantitative", "scale": {"domain": [-5.842, 96.9], "nice": false, "zero": false}},
               "y": {"field": "q1", "type": "quantitative", "scale": {"domain": [30, 150], "nice": false, "zero": false}},
               "y2": {"field": "q3"},
               "color": {"field": "series", "type": "nominal", "scale": {"domain": ["TAF: all patients (n=31)", "TAF: prior TDF (n=21)", "TAF: prior other OAV (n=10)"], "range": ["#A04BA6", "#7F7F7F", "#B6DA80"]}}}},
            {"mark": {"type": "tick", "orient": "horizontal", "size": 10, "thickness": 2, "opacity": 1},
             "encoding": {
               "x": {"field": "week", "type": "quantitative", "scale": {"domain": [-5.842, 96.9], "nice": false, "zero": false}},
               "y": {"field": "q1", "type": "quantitative", "scale": {"domain": [30, 150], "nice": false, "zero": false}},
               "color": {"field": "series", "type": "nominal", "scale": {"domain": ["TAF: all patients (n=31)", "TAF: prior TDF (n=21)", "TAF: prior other OAV (n=10)"], "range": ["#A04BA6", "#7F7F7F", "#B6DA80"]}}}},
            {"mark": {"type": "tick", "orient": "horizontal", "size": 10, "thickness": 2, "opacity": 1},
             "encoding": {
               "x": {"field": "week", "type": "quantitative", "scale": {"domain": [-5.842, 96.9], "nice": false, "zero": false}},
               "y": {"field": "q3", "type": "quantitative", "scale": {"domain": [30, 150], "nice": false, "zero": false}},
               "color": {"field": "series", "type": "nominal", "scale": {"domain": ["TAF: all patients (n=31)", "TAF: prior TDF (n=21)", "TAF: prior other OAV (n=10)"], "range": ["#A04BA6", "#7F7F7F", "#B6DA80"]}}}},
            {"mark": {"type": "line", "strokeWidth": 5},
             "encoding": {
               "x": {"field": "week", "type": "quantitative", "scale": {"domain": [-5.842, 96.9], "nice": false, "zero": false},
                     "axis": {"values": [0, 12, 24, 36, 48, 60, 72, 96], "domain": false, "tickSize": 7, "labelPadding": 41.7, "labelBaseline": "alphabetic", "labelFontSize": 28, "title": "Week", "titleFontSize": 30, "titleFontWeight": "bold", "titleColor": "#000", "titleX": 496, "titleY": 86.6, "titleBaseline": "alphabetic", "titleAlign": "center", "titleAngle": 0}},
               "y": {"field": "median", "type": "quantitative", "scale": {"domain": [30, 150], "nice": false, "zero": false},
                     "axis": {"values": [30, 60, 90, 120, 150], "offset": -42, "tickSize": 8, "labelPadding": 13, "labelFontSize": 27, "title": ["Median eGFR\u00a0\u00a0\u00a0 mL/min", "(Q1, Q3)"], "titleFontSize": 29, "titleFontWeight": "normal", "titleX": -138, "titleY": 214, "titleAngle": 270, "titleBaseline": "bottom", "titleAlign": "center", "titleLineHeight": 36}},
               "color": {"field": "series", "type": "nominal", "scale": {"domain": ["TAF: all patients (n=31)", "TAF: prior TDF (n=21)", "TAF: prior other OAV (n=10)"], "range": ["#A04BA6", "#7F7F7F", "#B6DA80"]}}}},
            {"mark": {"type": "point", "filled": true, "opacity": 1, "size": 289},
             "encoding": {
               "x": {"field": "week", "type": "quantitative", "scale": {"domain": [-5.842, 96.9], "nice": false, "zero": false}},
               "y": {"field": "median", "type": "quantitative", "scale": {"domain": [30, 150], "nice": false, "zero": false}},
               "color": {"field": "series", "type": "nominal", "scale": {"domain": ["TAF: all patients (n=31)", "TAF: prior TDF (n=21)", "TAF: prior other OAV (n=10)"], "range": ["#A04BA6", "#7F7F7F", "#B6DA80"]},
                         "legend": {"title": null, "orient": "none", "legendX": 92, "legendY": -85, "symbolType": "M-1,-0.15L1,-0.15L1,0.15L-1,0.15Z M0.35,0A0.35,0.35 0 1 1 -0.35,0A0.35,0.35 0 1 1 0.35,0Z", "symbolSize": 2601, "labelFontSize": 28, "labelOffset": 24, "columnPadding": 47}}}},
            {"transform": [{"filter": "datum.week == 96"}],
             "layer": [
               {"transform": [{"filter": "datum.series == 'TAF: prior other OAV (n=10)'"}], "mark": {"type": "text", "align": "left", "baseline": "middle", "fontSize": 28, "fontWeight": "bold", "dx": 35, "dy": 2, "color": "#B6DA80"}},
               {"transform": [{"filter": "datum.series == 'TAF: all patients (n=31)'"}], "mark": {"type": "text", "align": "left", "baseline": "middle", "fontSize": 28, "fontWeight": "bold", "dx": 35, "dy": 8, "color": "#A04BA6"}},
               {"transform": [{"filter": "datum.series == 'TAF: prior TDF (n=21)'"}], "mark": {"type": "text", "align": "left", "baseline": "middle", "fontSize": 28, "fontWeight": "bold", "dx": 35, "dy": 2.5, "color": "#7F7F7F"}}
             ],
             "encoding": {
               "x": {"field": "week", "type": "quantitative", "scale": {"domain": [-5.842, 96.9], "nice": false, "zero": false}},
               "y": {"field": "median", "type": "quantitative", "scale": {"domain": [30, 150], "nice": false, "zero": false}},
               "text": {"field": "median", "type": "nominal"}}}
          ]
        },
        {"data": {"values": [{"ref": 30}]}, "mark": {"type": "rule", "opacity": 0},
         "encoding": {"y": {"field": "ref", "type": "quantitative", "scale": {"domain": [30, 150], "nice": false, "zero": false},
           "axis": {"orient": "left", "offset": -42, "domain": false, "ticks": false, "labels": false, "title": "CG", "titleFontSize": 17, "titleFontWeight": "normal", "titleX": -130, "titleY": 175.7, "titleAngle": 270, "titleBaseline": "bottom", "titleAlign": "center"}}}}
      ]
    },
    {"width": 1, "height": 283, "data": {"values": []}, "mark": "point",
     "title": {"text": "Study 3912: Liver Transplantation with CKD", "offset": -172.3}},
    {
      "width": 1481, "height": 418.7,
      "data": {"name": "p5"},
      "layer": [
        {"data": {"values": [{"ref": 0, "from": 0, "to": 192.8}]},
         "mark": {"type": "rule", "strokeWidth": 2.5, "color": "#000"},
         "encoding": {
           "x": {"field": "from", "type": "quantitative", "scale": {"domain": [-8.389, 192], "nice": false, "zero": false}},
           "x2": {"field": "to"},
           "y": {"field": "ref", "type": "quantitative", "scale": {"domain": [-21.5, 15], "nice": false, "zero": false}}}},
        {"mark": {"type": "rule", "strokeWidth": 1.5},
         "encoding": {
           "x": {"field": "week", "type": "quantitative", "scale": {"domain": [-8.389, 192], "nice": false, "zero": false}},
           "y": {"field": "q1", "type": "quantitative", "scale": {"domain": [-21.5, 15], "nice": false, "zero": false}},
           "y2": {"field": "q3"},
           "color": {"field": "series", "type": "nominal", "scale": {"domain": ["TAF", "TDF"], "range": ["#A04BA6", "#3E6E1D"]}}}},
        {"mark": {"type": "tick", "orient": "horizontal", "size": 12, "thickness": 1.5, "opacity": 1},
         "encoding": {
           "x": {"field": "week", "type": "quantitative", "scale": {"domain": [-8.389, 192], "nice": false, "zero": false}},
           "y": {"field": "q1", "type": "quantitative", "scale": {"domain": [-21.5, 15], "nice": false, "zero": false}},
           "color": {"field": "series", "type": "nominal", "scale": {"domain": ["TAF", "TDF"], "range": ["#A04BA6", "#3E6E1D"]}}}},
        {"mark": {"type": "tick", "orient": "horizontal", "size": 12, "thickness": 1.5, "opacity": 1},
         "encoding": {
           "x": {"field": "week", "type": "quantitative", "scale": {"domain": [-8.389, 192], "nice": false, "zero": false}},
           "y": {"field": "q3", "type": "quantitative", "scale": {"domain": [-21.5, 15], "nice": false, "zero": false}},
           "color": {"field": "series", "type": "nominal", "scale": {"domain": ["TAF", "TDF"], "range": ["#A04BA6", "#3E6E1D"]}}}},
        {"transform": [{"filter": "datum.series == 'TDF'"}],
         "mark": {"type": "line", "strokeWidth": 7},
         "encoding": {
           "x": {"field": "week", "type": "quantitative", "scale": {"domain": [-8.389, 192], "nice": false, "zero": false},
                 "axis": {"values": [0, 24, 48, 72, 96, 120, 144, 168, 192], "domain": false, "offset": -16, "tickSize": 16, "labelPadding": 32.3, "labelBaseline": "alphabetic", "labelFontSize": 31, "title": "Week", "titleFontSize": 33, "titleFontWeight": "bold", "titleColor": "#000", "titleX": 754, "titleY": 82, "titleBaseline": "alphabetic", "titleAlign": "center", "titleAngle": 0}},
           "y": {"field": "median", "type": "quantitative", "scale": {"domain": [-21.5, 15], "nice": false, "zero": false},
                 "axis": {"values": [-20, -15, -10, -5, 0, 5, 10, 15], "offset": -62, "tickSize": 16, "labelPadding": 1, "labelFontSize": 32, "title": ["Median Change from Baseline", "(Q1, Q3)"], "titleFontSize": 29, "titleFontWeight": "normal", "titleX": -154, "titleY": 211.5, "titleAngle": 270, "titleBaseline": "bottom", "titleAlign": "center", "titleLineHeight": 36}},
           "color": {"field": "series", "type": "nominal", "scale": {"domain": ["TAF", "TDF"], "range": ["#A04BA6", "#3E6E1D"]}}}},
        {"transform": [{"filter": "datum.series == 'TAF'"}],
         "mark": {"type": "line", "strokeWidth": 7},
         "encoding": {
           "x": {"field": "week", "type": "quantitative", "scale": {"domain": [-8.389, 192], "nice": false, "zero": false}},
           "y": {"field": "median", "type": "quantitative", "scale": {"domain": [-21.5, 15], "nice": false, "zero": false}},
           "color": {"field": "series", "type": "nominal", "scale": {"domain": ["TAF", "TDF"], "range": ["#A04BA6", "#3E6E1D"]}}}},
        {"mark": {"type": "point", "filled": true, "opacity": 1, "size": 225},
         "encoding": {
           "x": {"field": "week", "type": "quantitative", "scale": {"domain": [-8.389, 192], "nice": false, "zero": false}},
           "y": {"field": "median", "type": "quantitative", "scale": {"domain": [-21.5, 15], "nice": false, "zero": false}},
           "color": {"field": "series", "type": "nominal", "scale": {"domain": ["TAF", "TDF"], "range": ["#A04BA6", "#3E6E1D"]},
                     "legend": {"title": null, "orient": "none", "legendX": 719, "legendY": -120.5, "symbolType": "M-1,-0.11L1,-0.11L1,0.11L-1,0.11Z M0.33,0A0.33,0.33 0 1 1 -0.33,0A0.33,0.33 0 1 1 0.33,0Z", "symbolSize": 3481, "labelFontSize": 28, "labelOffset": 21, "columnPadding": 66}}}},
        {"transform": [{"filter": "datum.week == 192"}],
         "layer": [
           {"transform": [{"filter": "datum.series == 'TAF'"}], "mark": {"type": "text", "align": "left", "baseline": "middle", "fontSize": 32, "fontWeight": "bold", "dx": 23, "dy": -6, "color": "#000"}},
           {"transform": [{"filter": "datum.series == 'TDF'"}], "mark": {"type": "text", "align": "left", "baseline": "middle", "fontSize": 32, "fontWeight": "bold", "dx": 23, "dy": 9, "color": "#000"}}
         ],
         "encoding": {
           "x": {"field": "week", "type": "quantitative", "scale": {"domain": [-8.389, 192], "nice": false, "zero": false}},
           "y": {"field": "median", "type": "quantitative", "scale": {"domain": [-21.5, 15], "nice": false, "zero": false}},
           "text": {"field": "median", "type": "nominal"}}}
      ]
    },
    {"width": 1, "height": 136.6, "data": {"values": []}, "mark": "point",
     "title": {"text": ["*Safety analysis set (Observed data for DB and OL phases)", "BMD, bone mineral density; ESRD, end stage renal disease; OAV, oral antiviral; RI, renal impairment."], "fontSize": 29, "fontWeight": "normal", "lineHeight": 37, "offset": -136.6, "dx": -130}}
  ]
}
